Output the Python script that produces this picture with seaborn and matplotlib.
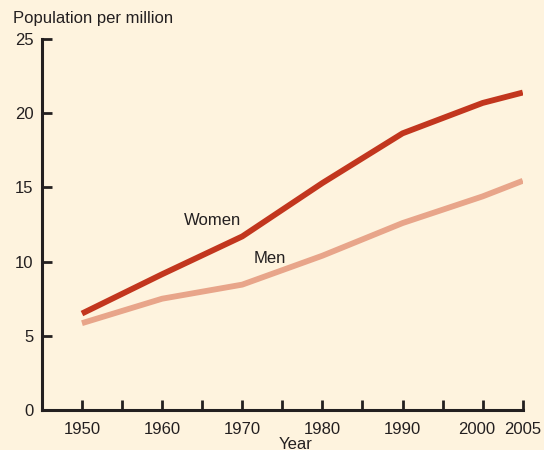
import matplotlib

matplotlib.use("Agg")
import matplotlib.pyplot as plt
import matplotlib.transforms as mtransforms
import pandas as pd
import seaborn as sns

years = [1950, 1960, 1970, 1980, 1990, 2000, 2005]
women = [6.5, 9.15, 11.7, 15.3, 18.65, 20.7, 21.4]
men = [5.85, 7.5, 8.45, 10.4, 12.6, 14.4, 15.45]
x_labels = ["1950", "", "1960", "", "1970", "", "1980", "", "1990", "", "2000", "2005"]
x_ticks = [1950, 1955, 1960, 1965, 1970, 1975, 1980, 1985, 1990, 1995, 2000, 2005]

BG = "#FEF3DE"
INK = "#231F20"
WOMEN_C = "#C2361E"
MEN_C = "#E8A58A"

sns.set_theme(style="ticks")
plt.rcParams["font.family"] = ["Liberation Sans", "DejaVu Sans"]

df = pd.DataFrame({"Year": years * 2,
                   "value": women + men,
                   "sex": ["Women"] * len(years) + ["Men"] * len(years)})

fig = plt.figure(figsize=(5.44, 4.5), dpi=100, facecolor=BG)
ax = fig.add_axes([0.077, 0.089, 0.884, 0.824])
ax.set_facecolor(BG)

sns.lineplot(data=df, x="Year", y="value", hue="sex",
             palette={"Women": WOMEN_C, "Men": MEN_C},
             linewidth=4.2, legend=False, ax=ax,
             solid_capstyle="butt")

ax.set_xlim(1945, 2005)
ax.set_ylim(0, 25)
ax.set_xticks(x_ticks)
ax.set_xticklabels(x_labels)
ax.set_yticks([0, 5, 10, 15, 20, 25])

for s in ["top", "right"]:
    ax.spines[s].set_visible(False)
for s in ["left", "bottom"]:
    ax.spines[s].set_color(INK)
    ax.spines[s].set_linewidth(2.2)

ax.tick_params(axis="both", direction="in", length=7, width=2, color=INK,
               labelsize=12, labelcolor=INK)
ax.tick_params(axis="x", pad=9)
ax.tick_params(axis="y", pad=6)

# "2000" sits a little left of its tick so it clears "2005"
shift = mtransforms.ScaledTranslation(-4 / 72, 0, fig.dpi_scale_trans)
lbl = ax.get_xticklabels()[10]
lbl.set_transform(lbl.get_transform() + shift)

ax.set_xlabel("Year", fontsize=12, color=INK)
ax.xaxis.set_label_coords(0.528, -0.072)
ax.set_ylabel("")
fig.text(0.024, 0.96, "Population per million", fontsize=12, color=INK,
         ha="left", va="center")

ax.text(1966.3, 12.8, "Women", fontsize=12, color=INK, ha="center", va="center")
ax.text(1973.4, 10.2, "Men", fontsize=12, color=INK, ha="center", va="center")

fig.savefig("out.png", dpi=100, facecolor=BG)
